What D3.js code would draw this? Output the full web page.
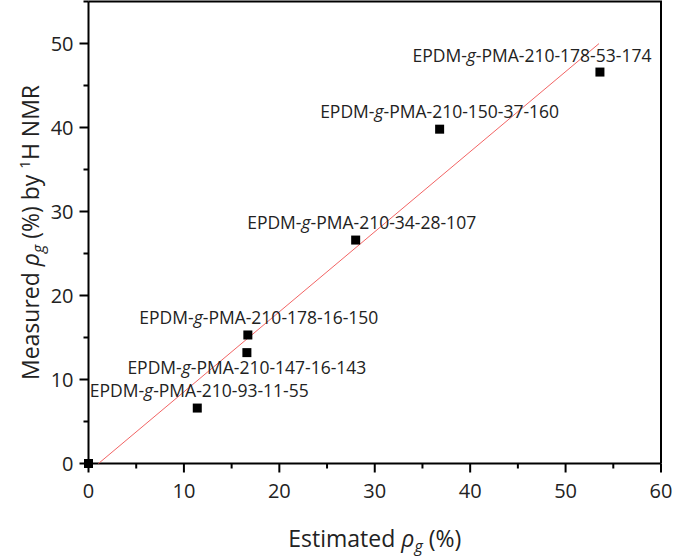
<!DOCTYPE html>
<html>
<head>
<meta charset="utf-8">
<script src="https://cdn.jsdelivr.net/npm/d3@7/dist/d3.min.js"></script>
<style>
  body { margin: 0; background: #fff; }
  svg { display: block; font-family: "Open Sans", sans-serif; }
</style>
</head>
<body>
<svg id="chart" width="676" height="558"></svg>
<script>
// samples (estimated vs measured grafting degree, %)
const sampleNames = [
  '', 'EPDM-g-PMA-210-93-11-55', 'EPDM-g-PMA-210-147-16-143', 'EPDM-g-PMA-210-178-16-150',
  'EPDM-g-PMA-210-34-28-107', 'EPDM-g-PMA-210-150-37-160', 'EPDM-g-PMA-210-178-53-174'
];
const estimated = [0, 11.4, 16.6, 16.7, 28.0, 36.8, 53.6];
const measured = [0, 6.6, 13.2, 15.3, 26.6, 39.8, 46.6];

// linear fit drawn in red
const fitSlope = 0.953;
const fitIntercept = -1.0;
const fitXEnd = 53.5;

const xTicks = [0, 10, 20, 30, 40, 50, 60];
const yTicks = [0, 10, 20, 30, 40, 50];

// label placement in px relative to the marker: [dx of label centre, dy of baseline]
const labelOffset = [null, [2, -11], [0, 21], [11, -11], [6, -11], [0, -11], [-68, -10]];

const svg = d3.select('#chart');
const margin = { top: 1.5, right: 15, bottom: 94.5, left: 88.5 };
const W = 676, H = 558;
const x = d3.scaleLinear().domain([0, 60]).range([margin.left, W - margin.right]);
const y = d3.scaleLinear().domain([0, 55]).range([H - margin.bottom, margin.top]);

// frame (top and right)
svg.append('path')
  .attr('d', `M${x(0)},${y(55)}H${x(60)}V${y(0)}`)
  .attr('fill', 'none').attr('stroke', '#000').attr('stroke-width', 2);

// x axis
const gx = svg.append('g').attr('transform', `translate(0,${y(0)})`);
gx.append('line').attr('x1', x(0)).attr('x2', x(60)).attr('stroke', '#000').attr('stroke-width', 2);
d3.range(0, 61, 5).forEach(v => {
  const major = v % 10 === 0;
  gx.append('line').attr('x1', x(v)).attr('x2', x(v)).attr('y1', 0).attr('y2', major ? 9 : 5)
    .attr('stroke', '#000').attr('stroke-width', 2);
});
gx.selectAll('text.tick').data(xTicks).join('text')
  .attr('class', 'tick').attr('x', d => x(d)).attr('y', 34)
  .attr('text-anchor', 'middle').attr('font-size', 20).attr('fill', '#222').text(d => d);

// y axis
const gy = svg.append('g').attr('transform', `translate(${x(0)},0)`);
gy.append('line').attr('y1', y(0)).attr('y2', y(55)).attr('stroke', '#000').attr('stroke-width', 2);
d3.range(0, 56, 5).forEach(v => {
  const major = v % 10 === 0;
  gy.append('line').attr('y1', y(v)).attr('y2', y(v)).attr('x1', 0).attr('x2', major ? -9 : -5)
    .attr('stroke', '#000').attr('stroke-width', 2);
});
gy.selectAll('text.tick').data(yTicks).join('text')
  .attr('class', 'tick').attr('x', -15).attr('y', d => y(d) + 7)
  .attr('text-anchor', 'end').attr('font-size', 20).attr('fill', '#222').text(d => d);

// fit line
const x0 = -fitIntercept / fitSlope;
svg.append('line')
  .attr('x1', x(x0)).attr('y1', y(0))
  .attr('x2', x(fitXEnd)).attr('y2', y(fitSlope * fitXEnd + fitIntercept))
  .attr('stroke', '#f26464').attr('stroke-width', 1);

// markers
const pts = estimated.map((e, i) => ({ e, m: measured[i], name: sampleNames[i], off: labelOffset[i] }));
svg.selectAll('rect.pt').data(pts).join('rect')
  .attr('class', 'pt')
  .attr('x', d => x(d.e) - 4.5).attr('y', d => y(d.m) - 4.5)
  .attr('width', 9).attr('height', 9).attr('fill', '#000');

// point labels
const lab = svg.selectAll('text.lab').data(pts.filter(d => d.name)).join('text')
  .attr('class', 'lab')
  .attr('x', d => x(d.e) + d.off[0]).attr('y', d => y(d.m) + d.off[1])
  .attr('text-anchor', 'middle').attr('font-size', 17.5).attr('fill', '#222');
lab.each(function (d) {
  const t = d3.select(this);
  const parts = d.name.split('-g-');
  t.append('tspan').text(parts[0] + '-');
  t.append('tspan').attr('font-style', 'italic').text('g');
  t.append('tspan').text('-' + parts[1]);
});

// axis titles
const xt = svg.append('text')
  .attr('x', (x(0) + x(60)) / 2).attr('y', 547)
  .attr('text-anchor', 'middle').attr('font-size', 23).attr('fill', '#222');
xt.append('tspan').text('Estimated ');
xt.append('tspan').attr('font-style', 'italic').text('ρ');
xt.append('tspan').attr('font-style', 'italic').attr('font-size', 16).attr('dy', 5).text('g');
xt.append('tspan').attr('dy', -5).text(' (%)');

const yt = svg.append('text')
  .attr('transform', `translate(39,${(y(0) + y(55)) / 2}) rotate(-90)`)
  .attr('text-anchor', 'middle').attr('font-size', 23).attr('fill', '#222');
yt.append('tspan').text('Measured ');
yt.append('tspan').attr('font-style', 'italic').text('ρ');
yt.append('tspan').attr('font-style', 'italic').attr('font-size', 16).attr('dy', 5).text('g');
yt.append('tspan').attr('dy', -5).text(' (%) by ');
yt.append('tspan').attr('font-size', 15).attr('dy', -9).text('1');
yt.append('tspan').attr('dy', 9).text('H NMR');
</script>
</body>
</html>
